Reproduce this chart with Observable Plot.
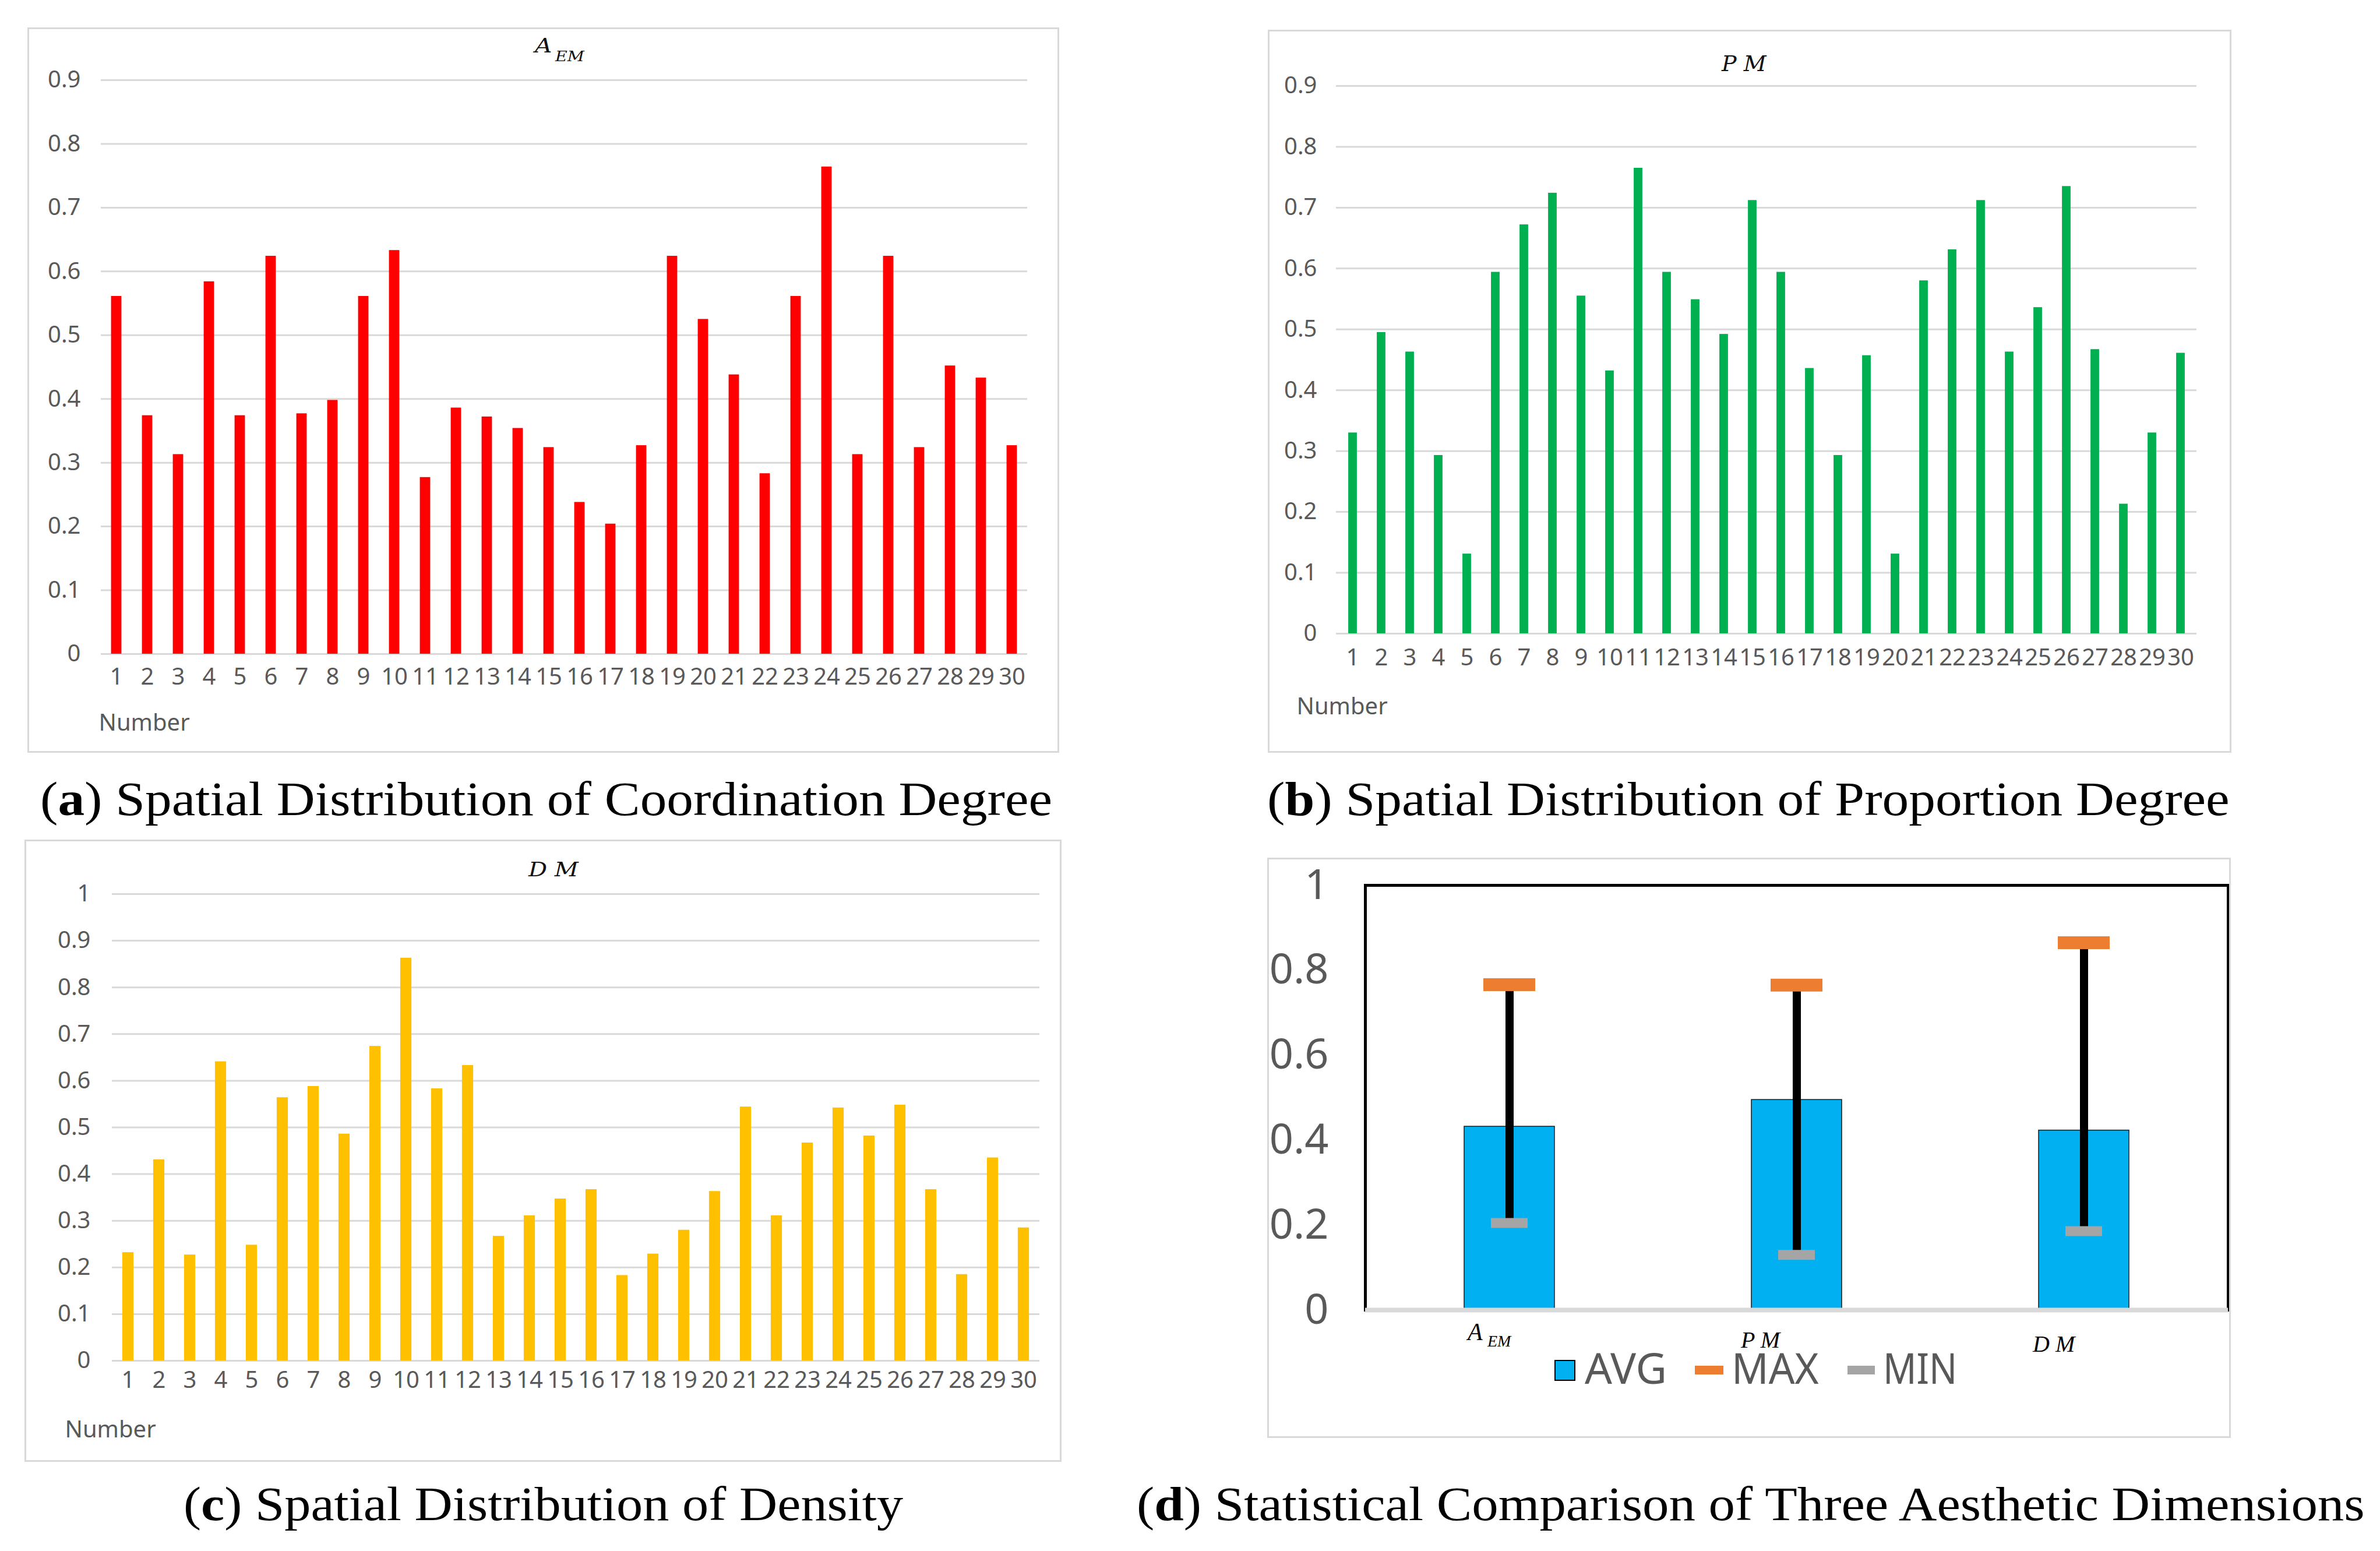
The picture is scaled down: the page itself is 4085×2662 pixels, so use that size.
<!DOCTYPE html>
<html><head><meta charset="utf-8">
<script src="https://cdn.jsdelivr.net/npm/d3@7"></script>
<script src="https://cdn.jsdelivr.net/npm/@observablehq/plot@0.6"></script>
<style>
html,body{margin:0;padding:0;background:#fff;}
#page{position:relative;width:4085px;height:2662px;background:#fff;overflow:hidden;}
.panel{position:absolute;}
.panel svg{display:block;}
.cap{position:absolute;font-family:"Liberation Serif",serif;font-size:83px;line-height:83px;white-space:nowrap;color:#000;}
.ttl{position:absolute;font-family:"DejaVu Serif",serif;font-style:italic;white-space:nowrap;color:#111;}
.lg{position:absolute;font-family:"Noto Sans",sans-serif;font-size:73px;line-height:52px;color:#595959;white-space:nowrap;}
.sw{position:absolute;box-sizing:border-box;}
</style></head><body><div id="page"></div>
<script>
// ---------- data ----------
const numberLabels = [1,2,3,4,5,6,7,8,9,10,11,12,13,14,15,16,17,18,19,20,21,22,23,24,25,26,27,28,29,30];
const aemValues = [0.561,0.374,0.313,0.584,0.374,0.624,0.377,0.398,0.561,0.633,0.277,0.386,0.372,0.354,0.324,0.238,0.204,0.327,0.624,0.525,0.438,0.283,0.561,0.764,0.313,0.624,0.324,0.452,0.433,0.327];
const pmValues = [0.330,0.495,0.463,0.293,0.131,0.594,0.672,0.724,0.555,0.432,0.765,0.594,0.549,0.492,0.712,0.594,0.436,0.293,0.457,0.131,0.580,0.631,0.712,0.463,0.536,0.735,0.467,0.213,0.330,0.461];
const dmValues = [0.232,0.431,0.227,0.641,0.248,0.564,0.588,0.486,0.674,0.863,0.583,0.633,0.267,0.311,0.347,0.367,0.183,0.229,0.280,0.363,0.544,0.311,0.467,0.542,0.482,0.548,0.367,0.185,0.435,0.285];
const ticks09 = [0,0.1,0.2,0.3,0.4,0.5,0.6,0.7,0.8,0.9];
const ticks10 = [0,0.1,0.2,0.3,0.4,0.5,0.6,0.7,0.8,0.9,1];
const ticksD = [0,0.2,0.4,0.6,0.8,1];
const dims = ["AEM","PM","DM"];
const avgValues = [0.432,0.495,0.423];
const maxValues = [0.766,0.765,0.865];
const minValues = [0.205,0.130,0.186];
const legendLabels = ["AVG","MAX","MIN"];

// ---------- helpers ----------
const page = document.getElementById("page");
const fmt = d => String(Math.round(d * 10) / 10);
const fitters = [];

function place(el, left, top) {
  const wrap = document.createElement("div");
  wrap.className = "panel";
  wrap.style.left = left + "px";
  wrap.style.top = top + "px";
  wrap.appendChild(el);
  page.appendChild(wrap);
  return wrap;
}
function html(cls, left, top, inner, extra, fitTo) {
  const d = document.createElement("div");
  d.className = cls;
  d.style.left = left + "px";
  d.style.top = top + "px";
  if (extra) Object.assign(d.style, extra);
  d.innerHTML = inner;
  page.appendChild(d);
  if (fitTo) fitters.push([d, fitTo]);
  return d;
}
function fitAll() {
  for (const [el, target] of fitters) {
    el.style.transform = "none";
    const w = el.offsetWidth;
    el.style.transformOrigin = "0 0";
    if (w > 0) el.style.transform = `scaleX(${target / w})`;
  }
}

function barPanel(c) {
  const rows = c.values.map((v, i) => ({n: numberLabels[i], v}));
  const svg = Plot.plot({
    width: c.w, height: c.h,
    marginLeft: c.ml, marginRight: c.mr, marginTop: c.mt, marginBottom: c.mb,
    style: {background: "#fff", fontFamily: "'Noto Sans', sans-serif", color: "#595959", overflow: "visible"},
    x: {type: "band", domain: numberLabels, padding: 0, label: null},
    y: {domain: [0, c.yMax], label: null},
    marks: [
      Plot.gridY(c.ticks, {stroke: "#d9d9d9", strokeOpacity: 1, strokeWidth: 3}),
      Plot.barY(rows, {x: "n", y: "v", fill: c.color, insetLeft: c.inset, insetRight: c.inset}),
      Plot.axisY(c.ticks, {tickSize: 0, tickPadding: c.ytp, fontSize: 40, tickFormat: fmt, fill: "#595959"}),
      Plot.axisX({tickSize: 0, tickPadding: c.xtp, fontSize: 40, fill: "#595959"}),
      Plot.text(["Number"], {frameAnchor: "bottom-left", textAnchor: "start", dx: c.ndx, dy: c.ndy, fontSize: 40, fill: "#595959"})
    ]
  });
  svg.style.outline = "3px solid #d9d9d9";
  svg.style.outlineOffset = "-3px";
  place(svg, c.left, c.top);
}

// ---------- panel a ----------
barPanel({values: aemValues, color: "#FF0000", yMax: 0.9, ticks: ticks09,
  left: 47, top: 47, w: 1771, h: 1245, ml: 126, mr: 55, mt: 90, mb: 170,
  inset: 17.6, ytp: 35, xtp: 24, ndx: -4, ndy: 131});
html("ttl", 918, 61, "A", {fontSize: "34px", lineHeight: "34px"}, 30);
html("ttl", 953, 84, "EM", {fontSize: "25px", lineHeight: "25px"}, 50);

// ---------- panel b ----------
barPanel({values: pmValues, color: "#00B050", yMax: 0.9, ticks: ticks09,
  left: 2176, top: 51, w: 1654, h: 1241, ml: 117, mr: 60, mt: 96, mb: 205,
  inset: 17.1, ytp: 33, xtp: 26, ndx: -68, ndy: 138});
html("ttl", 2955, 91, "P M", {fontSize: "37px", lineHeight: "37px"}, 77);

// ---------- panel c ----------
barPanel({values: dmValues, color: "#FFC000", yMax: 1, ticks: ticks10,
  left: 42, top: 1441, w: 1780, h: 1068, ml: 150, mr: 38, mt: 93, mb: 174,
  inset: 16.9, ytp: 37, xtp: 18, ndx: -81, ndy: 131});
html("ttl", 907, 1475, "D M", {fontSize: "34px", lineHeight: "34px"}, 86);

// ---------- panel d ----------
const summary = dims.map((d, i) => ({dim: d, avg: avgValues[i], max: maxValues[i], min: minValues[i]}));
const dLabelParts = [
  {dim: "AEM", text: "A", size: 42, dx: -72, dy: 51},
  {dim: "AEM", text: "EM", size: 28, dx: -38, dy: 62},
  {dim: "PM", text: "P M", size: 40, dx: -96, dy: 64},
  {dim: "DM", text: "D M", size: 40, dx: -88, dy: 71}
];
const svgD = Plot.plot({
  width: 1654, height: 996,
  marginLeft: 168, marginRight: 5, marginTop: 47, marginBottom: 220,
  style: {background: "#fff", fontFamily: "'Noto Sans', sans-serif", color: "#595959", overflow: "visible"},
  x: {type: "band", domain: dims, padding: 0, label: null, axis: null},
  y: {domain: [0, 1], label: null},
  marks: [
    Plot.frame({stroke: "#000", strokeWidth: 5}),
    Plot.barY(summary, {x: "dim", y: "avg", fill: "#00B0F0", stroke: "#1a1a1a", strokeWidth: 1.5, insetLeft: 169, insetRight: 169}),
    Plot.ruleY([0], {stroke: "#d9d9d9", strokeWidth: 8}),
    Plot.ruleX(summary, {x: "dim", y1: "min", y2: "max", stroke: "#000", strokeWidth: 14}),
    Plot.tickY(summary, {x: "dim", y: "max", stroke: "#ED7D31", strokeWidth: 22, insetLeft: 202, insetRight: 202}),
    Plot.tickY(summary, {x: "dim", y: "min", stroke: "#A5A5A5", strokeWidth: 17, insetLeft: 215, insetRight: 215}),
    Plot.axisY(ticksD, {tickSize: 0, tickPadding: 63, fontSize: 72, tickFormat: fmt, fill: "#595959"}),
    ...dLabelParts.map(p => Plot.text([p], {x: "dim", text: "text", frameAnchor: "bottom", lineAnchor: "bottom",
      textAnchor: "start", dx: p.dx, dy: p.dy, fontSize: p.size, fontStyle: "italic",
      fontFamily: "'Liberation Serif', serif", fill: "#000"}))
  ]
});
svgD.style.outline = "3px solid #d9d9d9";
svgD.style.outlineOffset = "-3px";
place(svgD, 2175, 1472);

// legend (d)
const lgColors = ["#00B0F0", "#ED7D31", "#A5A5A5"];
html("sw", 2668, 2334, "", {width: "36px", height: "36px", background: lgColors[0], border: "2px solid #000"});
html("lg", 2720, 2321, legendLabels[0], null, 141);
html("sw", 2909, 2344, "", {width: "49px", height: "15px", background: lgColors[1]});
html("lg", 2972, 2321, legendLabels[1], null, 150);
html("sw", 3171, 2344, "", {width: "47px", height: "15px", background: lgColors[2]});
html("lg", 3232, 2321, legendLabels[2], null, 127);

// ---------- captions ----------
html("cap", 69, 1330, '(<b>a</b>) Spatial Distribution of Coordination Degree', null, 1737);
html("cap", 2175, 1330, '(<b>b</b>) Spatial Distribution of Proportion Degree', null, 1652);
html("cap", 315, 2540, '(<b>c</b>) Spatial Distribution of Density', null, 1235);
html("cap", 1951, 2540, '(<b>d</b>) Statistical Comparison of Three Aesthetic Dimensions', null, 2108);

fitAll();
if (document.fonts && document.fonts.ready) document.fonts.ready.then(fitAll);
</script>
</body></html>
